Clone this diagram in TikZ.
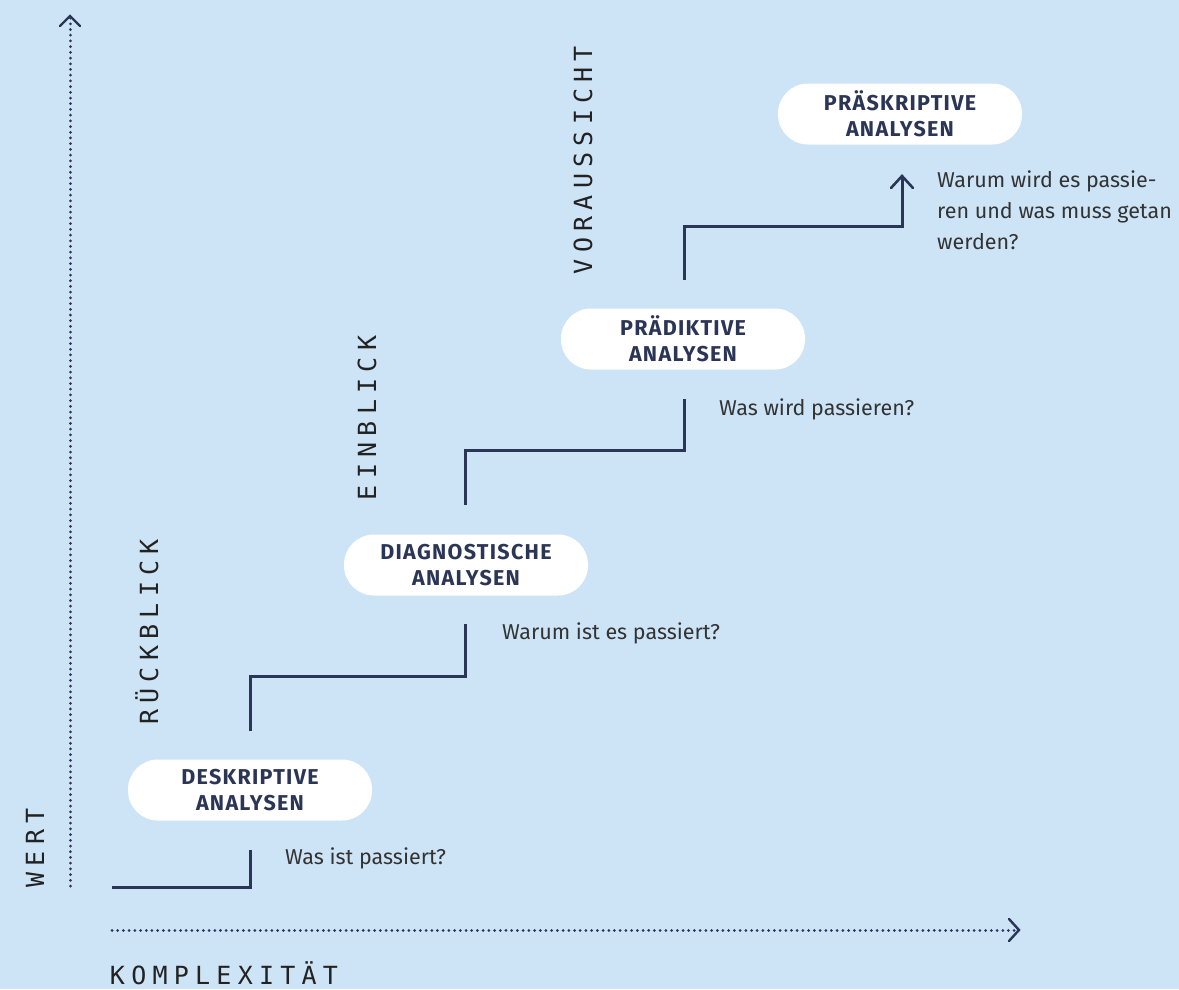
\documentclass[tikz,border=0pt]{standalone}
\usepackage{fontspec}
\setmainfont{Fira Sans}
\newfontfamily\axisfont[LetterSpace=25.0]{DejaVu Sans Mono}
\usetikzlibrary{arrows.meta}
\definecolor{bg}{HTML}{CDE4F7}
\definecolor{navy}{HTML}{2B3556}
\definecolor{txt}{HTML}{333333}
\definecolor{axt}{HTML}{222222}
\begin{document}
\begin{tikzpicture}[x=1pt,y=-1pt,
  pill/.style={fill=white,rounded corners=30pt,minimum width=244pt,minimum height=61pt,
    inner sep=0pt,align=center,text=navy,font=\fontsize{21.5}{26}\selectfont\bfseries\addfontfeature{LetterSpace=6.0}},
  question/.style={anchor=west,text=txt,font=\fontsize{21.5}{31}\selectfont,align=left,inner sep=0pt},
  axislabel/.style={text=axt,font=\fontsize{25}{28}\selectfont\axisfont,inner sep=0pt},
  stair/.style={draw=navy,line width=3pt},
  axis/.style={draw=navy,line width=3pt,dash pattern=on 0.01pt off 5.7pt,line cap=round},
  chev/.style={draw=navy,line width=2.4pt,line cap=round,line join=miter}]
\fill[bg] (0,0) rectangle (1179,989);
\useasboundingbox (0,0) rectangle (1179,989);
% axes
\coordinate (yb) at (70,886);
\coordinate (yt) at (70,16);
\coordinate (xl) at (112,930);
\coordinate (xr) at (1019,930);
\draw[axis] (yb) -- (yt);
\draw[axis] (xl) -- (xr);
\draw[chev] ([shift={(-10,10)}]yt) -- (yt) -- ([shift={(10,10)}]yt);
\draw[chev] ([shift={(-10,-11)}]xr) -- (xr) -- ([shift={(-10,11)}]xr);
\node[axislabel,rotate=90] (wert) at (35,848) {WERT};
\node[axislabel] (komp) at (224,973) {KOMPLEXITÄT};
\node[axislabel,rotate=90] (rb) at (147,632) {RÜCKBLICK};
\node[axislabel,rotate=90] (eb) at (367,418) {EINBLICK};
\node[axislabel,rotate=90] (vs) at (583,160) {VORAUSSICHT};
% pills
\node[pill] (d1) at (250,790) {DESKRIPTIVE\\ANALYSEN};
\node[pill] (d2) at (466,565) {DIAGNOSTISCHE\\ANALYSEN};
\node[pill] (d3) at (683,339) {PRÄDIKTIVE\\ANALYSEN};
\node[pill] (d4) at (900,114) {PRÄSKRIPTIVE\\ANALYSEN};
% questions
\node[question] (q1) at (285,858) {Was ist passiert?};
\node[question] (q2) at (502,633) {Warum ist es passiert?};
\node[question] (q3) at (719,409) {Was wird passieren?};
\node[question,anchor=north west] (q4) at (937,171) {Warum wird es passie-\\ren und was muss getan\\werden?};
% stairs
\coordinate (s0) at (112,887);
\coordinate (s1) at (250,850);
\coordinate (s2) at (250,731);
\coordinate (c2) at (250,676);
\coordinate (s3) at (465,624);
\coordinate (s4) at (465,505);
\coordinate (c4) at (465,450);
\coordinate (s5) at (684,399);
\coordinate (s6) at (684,280);
\coordinate (c6) at (684,226);
\coordinate (s7) at (902,176);
\draw[stair] (s0) -| (s1);
\draw[stair] (s2) -- (c2) -| (s3);
\draw[stair] (s4) -- (c4) -| (s5);
\draw[stair] (s6) -- (c6) -| (s7);
\draw[chev,line width=2.6pt] ([shift={(-11,12)}]s7) -- (s7) -- ([shift={(11,12)}]s7);
\end{tikzpicture}
\end{document}
